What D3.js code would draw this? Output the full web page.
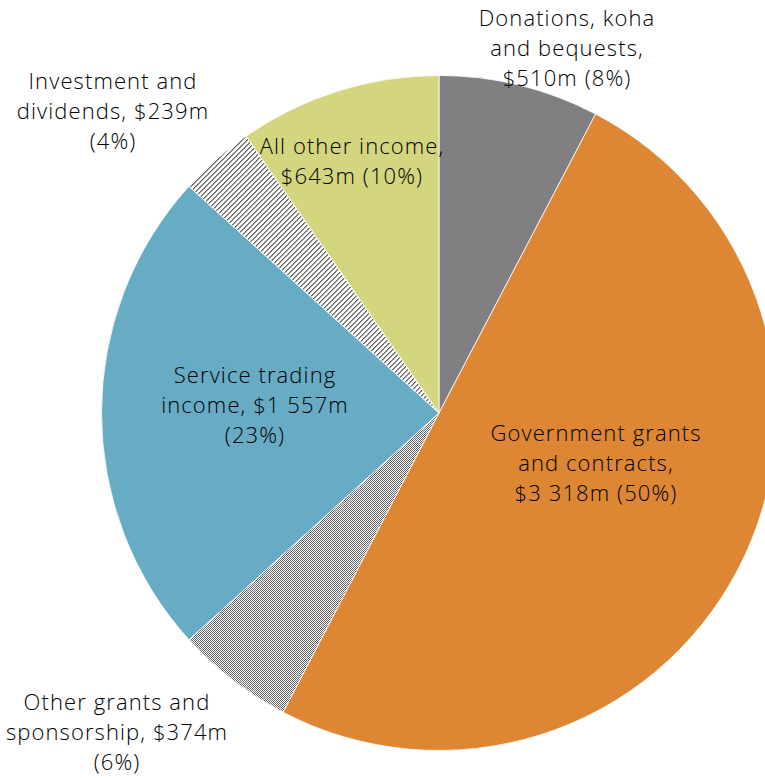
<!DOCTYPE html>
<html>
<head>
<meta charset="utf-8">
<script src="https://cdn.jsdelivr.net/npm/d3@7"></script>
<style>
  html, body { margin: 0; padding: 0; background: #fff; }
  svg { display: block; }
  text { font-family: "Open Sans", Lato, sans-serif; fill: #000; font-weight: 300; }
</style>
</head>
<body>
<svg id="chart" width="765" height="778"></svg>
<script>
// Income sources, $ millions, clockwise from 12 o'clock
const categories = [
  "Donations, koha and bequests",
  "Government grants and contracts",
  "Other grants and sponsorship",
  "Service trading income",
  "Investment and dividends",
  "All other income"
];
const values = [510, 3318, 374, 1557, 239, 643];

// How each label's words are split over lines ({v} = value, {p} = percent)
const labelLines = [
  ["Donations, koha", "and bequests,", "{v} ({p})"],
  ["Government grants", "and contracts,", "{v} ({p})"],
  ["Other grants and", "sponsorship, {v}", "({p})"],
  ["Service trading", "income, {v}", "({p})"],
  ["Investment and", "dividends, {v}", "({p})"],
  ["All other income,", "{v} ({p})"]
];

// Fill for each slice (solid colour or pattern id)
const fills = ["#808083", "#dd8633", "url(#checker)", "#67abc4", "url(#stripes)", "#d4d57f"];

// Label anchor (centre of the first line) for each slice
const labelPos = [
  [567, 26], [596, 441], [117, 710], [255, 383], [113, 89], [352, 154]
];
const lineHeight = 30;

const width = 765, height = 778;
const cx = 439, cy = 413, radius = 337.5;

const svg = d3.select("#chart");
const defs = svg.append("defs");

// 1px checkerboard
const checker = defs.append("pattern")
  .attr("id", "checker").attr("patternUnits", "userSpaceOnUse")
  .attr("width", 2).attr("height", 2);
checker.append("rect").attr("width", 2).attr("height", 2).attr("fill", "#fff");
checker.append("rect").attr("x", 0).attr("y", 0).attr("width", 1).attr("height", 1).attr("fill", "#666");
checker.append("rect").attr("x", 1).attr("y", 1).attr("width", 1).attr("height", 1).attr("fill", "#666");

// Upward diagonal dotted stripes
const stripes = defs.append("pattern")
  .attr("id", "stripes").attr("patternUnits", "userSpaceOnUse")
  .attr("width", 5).attr("height", 5);
stripes.append("rect").attr("width", 5).attr("height", 5).attr("fill", "#fff");
for (let i = 0; i < 5; i++) {
  stripes.append("rect")
    .attr("x", i).attr("y", 4 - i).attr("width", 1).attr("height", 1)
    .attr("fill", "#666");
  stripes.append("rect")
    .attr("x", (i + 1) % 5).attr("y", 4 - i).attr("width", 1).attr("height", 1)
    .attr("fill", "#999");
}

const pie = d3.pie().sort(null).value(d => d)(values);
const arc = d3.arc().innerRadius(0).outerRadius(radius);

const g = svg.append("g").attr("transform", `translate(${cx},${cy})`);
g.selectAll("path.slice")
  .data(pie)
  .join("path")
  .attr("class", "slice")
  .attr("d", arc)
  .attr("fill", (d, i) => fills[i])
  .attr("stroke", "#fff")
  .attr("stroke-width", 0.8);

const total = d3.sum(values);
const fmtNum = d3.formatLocale({ decimal: ".", thousands: "\u00a0", grouping: [3], currency: ["$", ""] }).format(",d");

const labels = svg.append("g");
labelLines.forEach((lines, i) => {
  const v = "$" + fmtNum(values[i]) + "m";
  const p = Math.round(values[i] / total * 100) + "%";
  const t = labels.append("text")
    .attr("text-anchor", "middle")
    .attr("font-size", 22)
    .attr("letter-spacing", 1.1);
  lines.forEach((ln, j) => {
    t.append("tspan")
      .attr("x", labelPos[i][0])
      .attr("y", labelPos[i][1] + j * lineHeight)
      .text(ln.replace("{v}", v).replace("{p}", p));
  });
});
</script>
</body>
</html>
